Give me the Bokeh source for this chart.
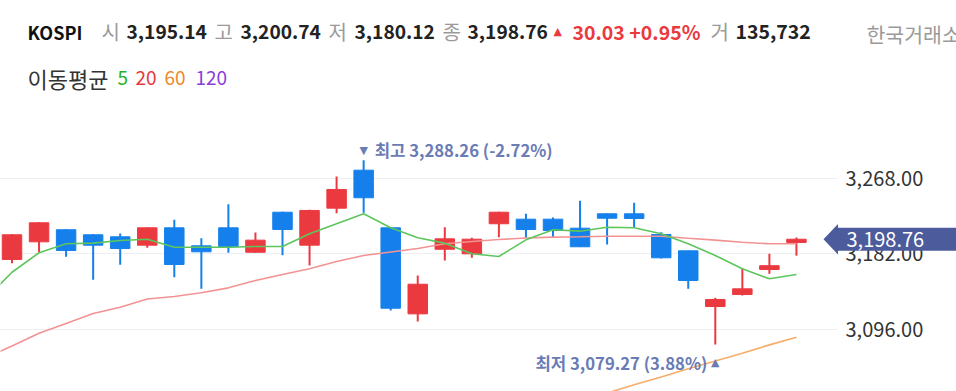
import numpy as np
from bokeh.plotting import figure
from bokeh.models import (ColumnDataSource, Range1d, FixedTicker, NumeralTickFormatter,
                          Label, PolyAnnotation, LinearAxis, Grid)
from bokeh.embed import file_html
from bokeh.resources import INLINE

# ---------------- data ----------------
days = list(range(30))
opens = [3175.8, 3195.8, 3209.5, 3203.8, 3201.5, 3192.0, 3211.7, 3191.3, 3211.7, 3184.0,
         3229.4, 3192.0, 3234.0, 3277.1, 3211.7, 3114.1, 3187.4, 3182.2, 3216.3, 3221.5,
         3221.5, 3211.3, 3227.6, 3227.6, 3204.1, 3185.6, 3122.4, 3136.0, 3164.4, 3195.14]
highs = [3204.5, 3218.0, 3210.2, 3204.3, 3205.3, 3212.2, 3220.8, 3199.9, 3238.5, 3206.4,
         3230.0, 3232.1, 3269.9, 3288.26, 3212.0, 3157.6, 3212.4, 3200.4, 3229.9, 3227.6,
         3223.4, 3242.4, 3228.0, 3240.1, 3206.7, 3186.0, 3132.3, 3165.9, 3182.2, 3200.74]
lows = [3171.6, 3184.0, 3178.8, 3152.7, 3169.7, 3189.0, 3155.7, 3142.5, 3183.4, 3183.5,
        3180.6, 3169.0, 3228.3, 3228.9, 3117.9, 3105.4, 3174.6, 3177.7, 3201.1, 3200.4,
        3200.4, 3190.0, 3192.8, 3212.4, 3176.9, 3142.5, 3079.27, 3134.9, 3159.5, 3180.12]
closes = [3203.8, 3217.4, 3186.0, 3192.0, 3188.2, 3211.7, 3170.1, 3184.5, 3190.2, 3197.7,
          3209.8, 3231.4, 3255.2, 3245.8, 3120.5, 3147.7, 3199.2, 3198.8, 3229.4, 3209.8,
          3208.7, 3190.2, 3222.6, 3222.3, 3177.7, 3151.9, 3130.4, 3142.5, 3168.73, 3198.76]
volume = 135732
change = 30.03
change_pct = 0.95

# moving averages (index -1 is the day just left of the view)
ma_days = list(range(-1, 30))
ma5 = [3130.4, 3161.3, 3183.4, 3193.6, 3194.3, 3197.3, 3198.8, 3189.7, 3189.7, 3189.7,
       3190.5, 3190.5, 3204.9, 3216.3, 3227.6, 3211.7, 3200.4, 3194.3, 3182.2, 3179.2,
       3198.1, 3209.5, 3207.9, 3212.4, 3211.7, 3204.9, 3193.6, 3180.3, 3165.2, 3153.9, 3158.7]
ma20 = [3063.7, 3077.7, 3092.1, 3103.1, 3114.5, 3121.6, 3130.9, 3133.8, 3138.0, 3143.6,
        3151.9, 3158.7, 3165.2, 3173.5, 3180.3, 3184.3, 3188.2, 3193.6, 3196.2, 3198.4,
        3200.2, 3201.1, 3201.6, 3202.2, 3202.2, 3202.2, 3199.9, 3197.7, 3195.4, 3193.6, 3193.6]
ma60 = [np.nan] * 21 + [3006.1, 3015.1, 3024.2, 3033.6, 3042.4, 3051.9, 3060.6, 3069.4,
                        3078.9, 3087.6]

yticks = [3096.0, 3182.0, 3268.0]
ma_labels = ["5", "20", "60", "120"]

# ---------------- styles ----------------
KR = "Noto Sans CJK KR"
RED = "#ea3a40"
BLUE = "#1580ec"
ANN = "#6a7bb5"
TAG = "#4b5b9b"
H = 391
AXIS_X = 30.26          # data x where the price scale sits (right edge of the plot area)

color = [RED if c >= o else BLUE for o, c in zip(opens, closes)]
src = ColumnDataSource(dict(
    x=days, high=highs, low=lows,
    top=[max(o, c) for o, c in zip(opens, closes)],
    bottom=[min(o, c) for o, c in zip(opens, closes)],
    color=color))

p = figure(width=956, height=H, output_backend="svg", toolbar_location=None,
           x_range=Range1d(-0.4251, 34.917), y_range=Range1d(3026.0, 3469.6),
           x_axis_location=None, y_axis_location=None,
           min_border_left=0, min_border_right=0, min_border_top=0, min_border_bottom=0,
           outline_line_color=None, background_fill_color="white", border_fill_color="white")

# drop the default grids
for g in list(p.grid):
    g.visible = False

ax = LinearAxis(fixed_location=AXIS_X)
ax.ticker = FixedTicker(ticks=yticks)
ax.formatter = NumeralTickFormatter(format="0,0.00")
ax.major_label_text_font_size = "20px"
ax.major_label_text_font = KR
ax.major_label_text_color = "#333333"
ax.axis_line_color = None
ax.major_tick_line_color = None
ax.minor_tick_line_color = None
ax.major_tick_out = 0
ax.major_tick_in = 0
ax.major_label_standoff = 15
p.add_layout(ax, "right")

grid = Grid(dimension=1, ticker=FixedTicker(ticks=yticks), grid_line_color="#eceef1",
            grid_line_width=1)
if "cross_bounds" in Grid.properties():
    grid.cross_bounds = (-0.4251, AXIS_X + 0.25)
p.add_layout(grid)

# candles
p.segment(x0="x", y0="high", x1="x", y1="low", line_color="color", line_width=2, source=src)
p.vbar(x="x", width=0.72, top="top", bottom="bottom", fill_color="color",
       line_color="color", line_width=1, source=src)

# moving averages
p.line(ma_days, ma60, line_color="#f6ad6a", line_width=1.6)
p.line(ma_days, ma20, line_color="#f29393", line_width=1.6)
p.line(ma_days, ma5, line_color="#5cc65c", line_width=1.6)


def lab(x, y_px, text, color, size, bold=False, align="left", font=KR):
    p.add_layout(Label(x=x, y=H - y_px, x_units="screen", y_units="screen", text=text,
                       text_color=color, text_font_size=f"{size}px", text_font=font,
                       text_font_style="bold" if bold else "normal",
                       text_align=align, text_baseline="middle"))


# header
o, hi, lo, c = opens[-1], highs[-1], lows[-1], closes[-1]
lab(27, 31, "KOSPI", "#111111", 18, True)
lab(101, 31, "시", "#9a9a9a", 20)
lab(126, 31, f"{o:,.2f}", "#222222", 19.2, True)
lab(214, 31, "고", "#9a9a9a", 20)
lab(240, 31, f"{hi:,.2f}", "#222222", 19.2, True)
lab(328, 31, "저", "#9a9a9a", 20)
lab(354, 31, f"{lo:,.2f}", "#222222", 19.2, True)
lab(442, 31, "종", "#9a9a9a", 20)
lab(467, 31, f"{c:,.2f}", "#222222", 19.2, True)
lab(553, 31, "▲", RED, 11, font="DejaVu Sans")
lab(572, 31, f"{change:,.2f} +{change_pct:.2f}%", RED, 19.5, True)
lab(710, 31, "거", "#9a9a9a", 20)
lab(735, 31, f"{volume:,}", "#222222", 19.5, True)
lab(866, 33, "한국거래소", "#9a9a9a", 20.5)

# MA legend
lab(27, 77, "이동평균", "#333333", 22)
ma_cols = ["#22b322", "#e8383d", "#ec8a2e", "#8a3fd9"]
for xx, t, cc in zip([117, 135, 164, 195], ma_labels, ma_cols):
    lab(xx, 77, t, cc, 19)

# highest / lowest annotations
imax = int(np.argmax(highs))
imin = int(np.argmin(lows))
p.add_layout(Label(x=imax, y=highs[imax], text="▼", text_font="DejaVu Sans",
                   text_font_size="11px", text_color=ANN, text_align="center",
                   text_baseline="middle", y_offset=10))
p.add_layout(Label(x=imax, y=highs[imax], text=f"최고 {highs[imax]:,.2f} (-2.72%)",
                   text_font=KR, text_font_size="16.7px", text_font_style="bold",
                   text_color=ANN, text_align="left", text_baseline="middle",
                   x_offset=11, y_offset=10))
p.add_layout(Label(x=imin, y=lows[imin], text="▲", text_font="DejaVu Sans",
                   text_font_size="11px", text_color=ANN, text_align="center",
                   text_baseline="middle", y_offset=-18))
p.add_layout(Label(x=imin, y=lows[imin], text=f"최저 {lows[imin]:,.2f} (3.88%)",
                   text_font=KR, text_font_size="16.7px", text_font_style="bold",
                   text_color=ANN, text_align="right", text_baseline="middle",
                   x_offset=-8, y_offset=-18))

# last price tag
d = 17.4
p.add_layout(PolyAnnotation(xs=[837.5, 823, 837.5], ys=[c + d, c, c - d],
                            xs_units="screen", ys_units="data",
                            fill_color=TAG, fill_alpha=1, line_color=None))
p.add_layout(Label(x=837, y=c, x_units="screen", y_units="data", text=f"{c:,.2f}",
                   text_color="white", text_font=KR, text_font_size="20px",
                   text_align="left", text_baseline="middle",
                   background_fill_color=TAG, background_fill_alpha=1,
                   padding=dict(top=4, right=60, bottom=4, left=9)))

open("out.html", "w").write(file_html(p, INLINE))
